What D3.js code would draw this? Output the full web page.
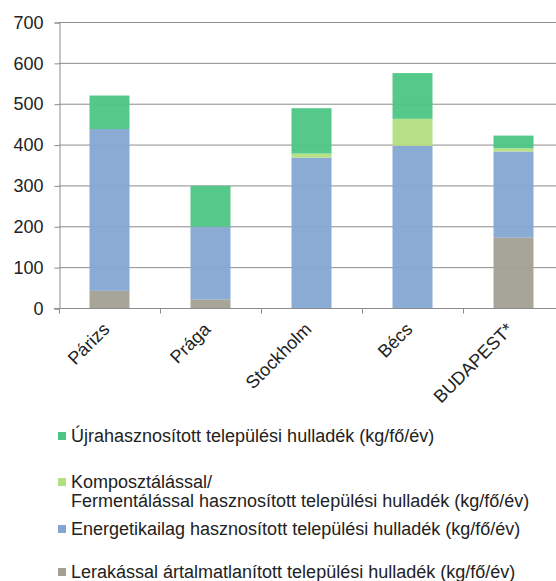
<!DOCTYPE html>
<html>
<head>
<meta charset="utf-8">
<script src="https://cdn.jsdelivr.net/npm/d3@7"></script>
<style>
  body { margin: 0; background: white; }
  svg { display: block; font-family: "Liberation Sans", Arial, sans-serif; }
</style>
</head>
<body>
<div id="chart"></div>
<script>
var cities = ["Párizs", "Prága", "Stockholm", "Bécs", "BUDAPEST*"];

var lerakas = [42, 21, 0, 0, 172];
var energetikai = [396, 178, 368, 397, 211];
var komposzt = [0, 0, 10, 66, 8];
var ujrahasznositott = [82, 100, 111, 112, 31];

var yTicks = [0, 100, 200, 300, 400, 500, 600, 700];

var seriesNames = [
  "Lerakással ártalmatlanított települési hulladék (kg/fő/év)",
  "Energetikailag hasznosított települési hulladék (kg/fő/év)",
  "Komposztálással/\nFermentálással hasznosított települési hulladék (kg/fő/év)",
  "Újrahasznosított települési hulladék (kg/fő/év)"
];
var colors = ["#a29f93", "#84a7d1", "#b3de81", "#4cc683"];

var width = 556, height = 581;
var plotLeft = 59, plotRight = 564, plotTop = 22, plotBottom = 308;

var svg = d3.select("#chart").append("svg")
    .attr("width", width)
    .attr("height", height);

var x = d3.scaleBand().domain(cities).range([plotLeft, plotRight]).paddingInner(0).paddingOuter(0);
var y = d3.scaleLinear().domain([0, 700]).range([plotBottom, plotTop]);

var rows = cities.map(function(c, i) {
  return { city: c, s0: lerakas[i], s1: energetikai[i], s2: komposzt[i], s3: ujrahasznositott[i] };
});
var stacked = d3.stack().keys(["s0", "s1", "s2", "s3"])(rows);

// gridlines
svg.append("g").selectAll("line")
  .data(yTicks.filter(d => d > 0))
  .enter().append("line")
    .attr("x1", plotLeft).attr("x2", plotRight)
    .attr("y1", d => y(d) + 0.5).attr("y2", d => y(d) + 0.5)
    .style("stroke", "#8c8c8c")
    .style("stroke-width", 1);

// bars
var barW = 40;
svg.append("g").selectAll("g")
  .data(stacked)
  .enter().append("g")
    .attr("fill", (d, i) => colors[i])
  .selectAll("rect")
  .data(d => d)
  .enter().append("rect")
    .attr("x", d => x(d.data.city) + x.bandwidth() / 2 - barW / 2)
    .attr("y", d => y(d[1]))
    .attr("width", barW)
    .attr("height", d => y(d[0]) - y(d[1]))
    .style("opacity", 0.95);

// axes
var yAxis = svg.append("g")
    .attr("transform", "translate(" + (plotLeft + 0.5) + ",0.5)")
    .call(d3.axisLeft(y).tickValues(yTicks).tickSize(5).tickPadding(11));
yAxis.select(".domain").attr("stroke", "#8c8c8c");
yAxis.selectAll(".tick line").attr("stroke", "#8c8c8c");
yAxis.selectAll("text").style("font-size", "18px").attr("fill", "#222");

var xAxisG = svg.append("g")
    .attr("transform", "translate(0," + (plotBottom + 0.5) + ")");
xAxisG.append("line")
    .attr("x1", plotLeft - 5).attr("x2", plotRight)
    .style("stroke", "#8c8c8c");
xAxisG.selectAll(".tk")
  .data(cities.concat(["end"]))
  .enter().append("line")
    .attr("x1", (d, i) => plotLeft + i * x.bandwidth() + 0.5)
    .attr("x2", (d, i) => plotLeft + i * x.bandwidth() + 0.5)
    .attr("y1", 0).attr("y2", 5)
    .style("stroke", "#8c8c8c");
xAxisG.selectAll("text")
  .data(cities)
  .enter().append("text")
    .attr("transform", d => "translate(" + (x(d) + x.bandwidth() / 2 + 1) + ",22) rotate(-45)")
    .attr("text-anchor", "end")
    .style("font-size", "18px")
    .attr("fill", "#222")
    .text(d => d);

// legend
var legendItems = [
  { i: 3, y: 442 },
  { i: 2, y: 488 },
  { i: 1, y: 535 },
  { i: 0, y: 578 }
];
var legend = svg.append("g");
legendItems.forEach(function(item) {
  legend.append("rect")
    .attr("x", 58).attr("y", item.y - 10)
    .attr("width", 8).attr("height", 8)
    .attr("fill", colors[item.i]);
  var lines = seriesNames[item.i].split("\n");
  lines.forEach(function(t, k) {
    legend.append("text")
      .attr("x", 71)
      .attr("y", item.y + k * 19)
      .style("font-size", "18px")
      .attr("fill", "#222")
      .text(t);
  });
});
</script>
</body>
</html>
